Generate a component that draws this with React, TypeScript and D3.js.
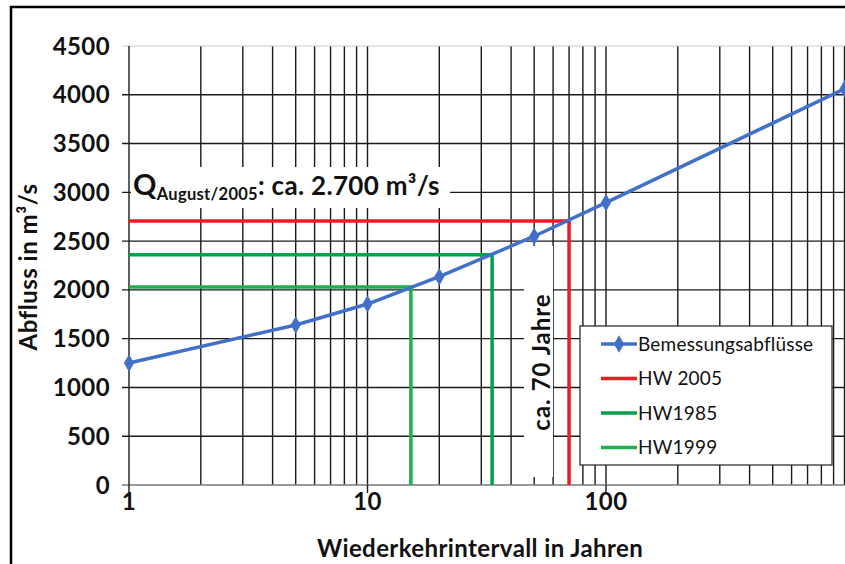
import React, { useEffect, useRef } from 'react';
import * as d3 from 'd3';

// Bemessungsabflüsse (design discharges) per return period
const returnPeriods = [1, 5, 10, 20, 50, 100, 1000];
const designFlows = [1250, 1640, 1855, 2135, 2550, 2895, 4060];

// historic floods: return period and discharge
const floodNames = ['HW 2005', 'HW1985', 'HW1999'];
const floodYears = [70, 33.3, 15.2];
const floodFlows = [2705, 2360, 2030];
const floodColors = ['#ec1c24', '#00a14b', '#1eb04e'];

const yTicks = [0, 500, 1000, 1500, 2000, 2500, 3000, 3500, 4000, 4500];
const xLabelTicks = [1, 10, 100];
const seriesName = 'Bemessungsabflüsse';
const blue = '#4270c8';

const FONT = 'Lato, "DejaVu Sans", sans-serif';

function App() {
  const ref = useRef<SVGSVGElement>(null);

  useEffect(() => {
    const svg = d3.select(ref.current);
    svg.selectAll('*').remove();

    const x = d3.scaleLog().domain([1, 1000]).range([129, 844.5]);
    const y = d3.scaleLinear().domain([0, 4500]).range([485, 46]);

    // outer frame
    svg.append('rect')
      .attr('x', 11).attr('y', 7).attr('width', 860).attr('height', 600)
      .attr('fill', '#fff').attr('stroke', '#000').attr('stroke-width', 2.5);

    // vertical grid (1..9, 10..90, 100..1000)
    const vGrid: number[] = [];
    for (let d = 1; d < 1000; d *= 10) {
      for (let k = 1; k < 10; k++) vGrid.push(k * d);
    }
    vGrid.push(1000);
    svg.append('g').selectAll('line')
      .data(vGrid.filter(v => v > 1))
      .enter().append('line')
      .attr('x1', d => x(d)).attr('x2', d => x(d))
      .attr('y1', y(4500)).attr('y2', y(0))
      .attr('stroke', '#1a1a1a').attr('stroke-width', 1.4);

    // horizontal grid + y ticks
    svg.append('g').selectAll('line')
      .data(yTicks)
      .enter().append('line')
      .attr('x1', x(1) - 7).attr('x2', x(1000))
      .attr('y1', d => y(d)).attr('y2', d => y(d))
      .attr('stroke', d => (d === 0 ? '#777' : d === 4500 ? '#ccc' : '#1a1a1a'))
      .attr('stroke-width', d => (d === 4500 ? 1 : 1.4));

    // y axis line
    svg.append('line')
      .attr('x1', x(1)).attr('x2', x(1))
      .attr('y1', y(4500)).attr('y2', y(0) + 8)
      .attr('stroke', '#1a1a1a').attr('stroke-width', 1.4);

    // x ticks at decades
    svg.append('g').selectAll('line')
      .data(xLabelTicks.slice(1))
      .enter().append('line')
      .attr('x1', d => x(d)).attr('x2', d => x(d))
      .attr('y1', y(0)).attr('y2', y(0) + 8)
      .attr('stroke', '#1a1a1a').attr('stroke-width', 1.4);

    const bold = (sel: any, size: number, ls = 0) =>
      sel.attr('font-family', FONT).attr('font-weight', 700)
        .attr('font-size', size).attr('letter-spacing', ls).attr('fill', '#111');

    // y tick labels
    bold(svg.append('g').selectAll('text')
      .data(yTicks)
      .enter().append('text')
      .attr('x', 110).attr('y', d => y(d) + 8.5)
      .attr('text-anchor', 'end')
      .text(d => d), 24, 0.4);

    // x tick labels
    bold(svg.append('g').selectAll('text')
      .data(xLabelTicks)
      .enter().append('text')
      .attr('x', d => x(d)).attr('y', 510)
      .attr('text-anchor', 'middle')
      .text(d => d), 24, 0.4);

    // axis titles
    bold(svg.append('text')
      .attr('x', 480).attr('y', 557)
      .attr('text-anchor', 'middle')
      .text('Wiederkehrintervall in Jahren'), 24, 0.4);

    bold(svg.append('text')
      .attr('transform', 'translate(37,267) rotate(-90)')
      .attr('text-anchor', 'middle')
      .text('Abfluss in m³/s'), 24, 0.5);

    // flood marker lines (horizontal to the curve, then down to 0)
    floodNames.forEach((_, i) => {
      const px = x(floodYears[i]);
      const py = y(floodFlows[i]);
      svg.append('path')
        .attr('d', `M${x(1)},${py}H${px}V${y(0)}`)
        .attr('fill', 'none')
        .attr('stroke', floodColors[i])
        .attr('stroke-width', 3.5);
    });

    // design discharge curve
    const pts: [number, number][] = returnPeriods.map((t, i) => [x(t), y(designFlows[i])]);
    svg.append('path')
      .attr('d', d3.line()(pts))
      .attr('fill', 'none').attr('stroke', blue).attr('stroke-width', 3.5);
    const diamond = d3.symbol().type(d3.symbolDiamond).size(90);
    svg.append('g').selectAll('path')
      .data(pts)
      .enter().append('path')
      .attr('transform', d => `translate(${d[0]},${d[1]})`)
      .attr('d', diamond())
      .attr('fill', blue);

    // annotation: Q August/2005
    svg.append('rect')
      .attr('x', 131).attr('y', 167).attr('width', 319).attr('height', 41)
      .attr('fill', '#fff');
    const q = bold(svg.append('text').attr('x', 133).attr('y', 195), 26, 0.3);
    q.append('tspan').attr('font-size', 29).text('Q');
    q.append('tspan').attr('font-size', 16.5).attr('dy', 5).text('August/2005');
    q.append('tspan').attr('font-size', 26).attr('dy', -5).text(': ca. 2.700 m³/s');

    // annotation: ca. 70 Jahre
    svg.append('rect')
      .attr('x', 524).attr('y', 246).attr('width', 29).attr('height', 231)
      .attr('fill', '#fff');
    bold(svg.append('text')
      .attr('transform', 'translate(550,362) rotate(-90)')
      .attr('text-anchor', 'middle')
      .text('ca. 70 Jahre'), 24, 1);

    // legend
    const lg = svg.append('g');
    lg.append('rect')
      .attr('x', 580).attr('y', 326).attr('width', 252).attr('height', 139)
      .attr('fill', '#fff').attr('stroke', '#222').attr('stroke-width', 1.2);
    const names = [seriesName, ...floodNames];
    const colors = [blue, ...floodColors];
    names.forEach((n, i) => {
      const ly = 344 + i * 34.5;
      lg.append('line')
        .attr('x1', 601).attr('x2', 637).attr('y1', ly).attr('y2', ly)
        .attr('stroke', colors[i]).attr('stroke-width', 3.5);
      if (i === 0) {
        lg.append('path')
          .attr('transform', `translate(619,${ly})`)
          .attr('d', diamond()).attr('fill', blue);
      }
      lg.append('text')
        .attr('x', 638).attr('y', ly + 6.5)
        .attr('font-family', FONT).attr('font-size', 19).attr('letter-spacing', 0.2)
        .attr('fill', '#111')
        .text(n);
    });
  }, []);

  return (
    <svg
      ref={ref}
      width={845}
      height={564}
      style={{ position: 'absolute', left: 0, top: 0, background: '#fff' }}
    />
  );
}

export default App;
